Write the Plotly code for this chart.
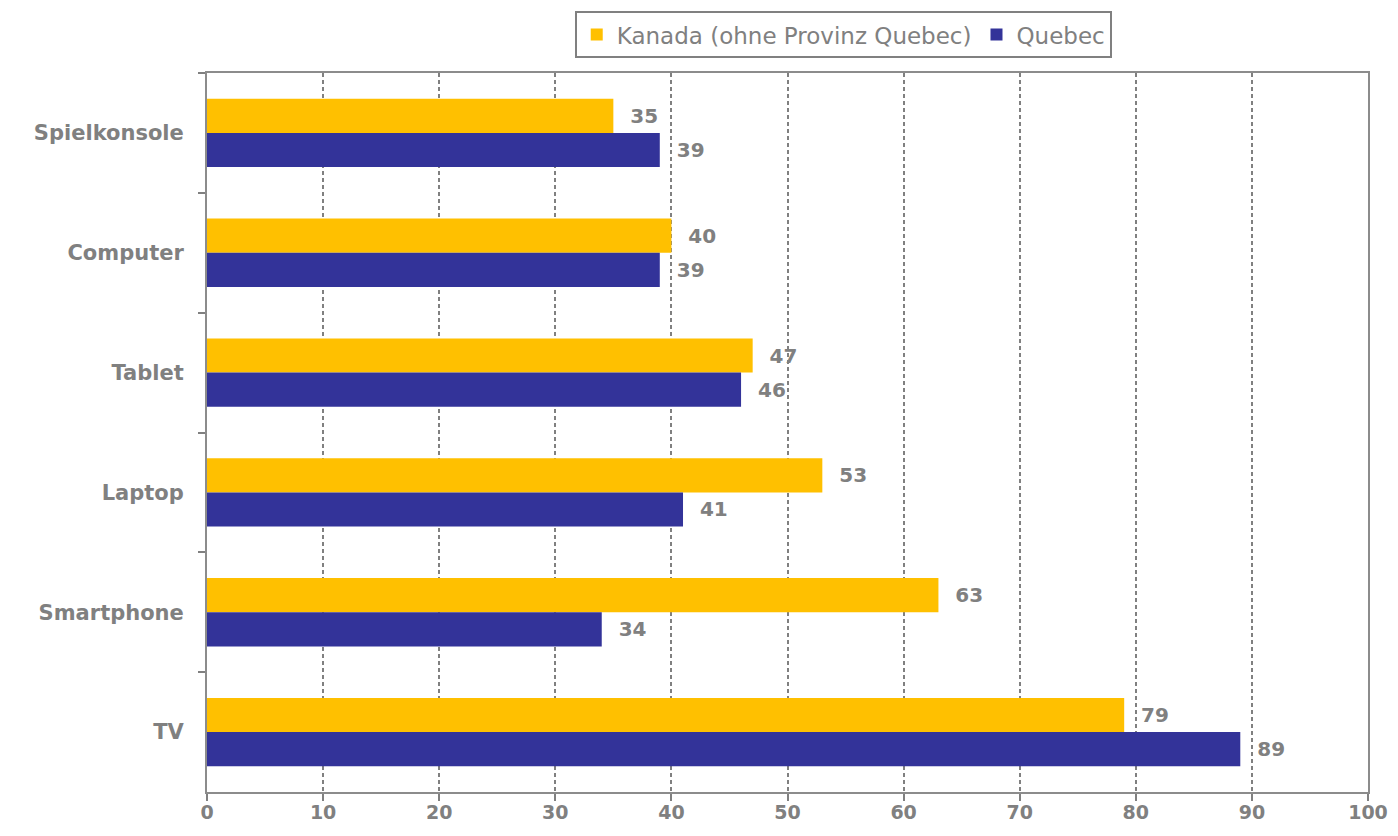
import plotly.graph_objects as go

categories = ["Spielkonsole", "Computer", "Tablet", "Laptop", "Smartphone", "TV"]
kanada = [35, 40, 47, 53, 63, 79]
quebec = [39, 39, 46, 41, 34, 89]
x_ticks = [0, 10, 20, 30, 40, 50, 60, 70, 80, 90, 100]

GRAY = "#808080"
FONT = "DejaVu Sans"

fig = go.Figure()
fig.add_trace(go.Bar(
    y=categories, x=kanada, orientation="h", name="Kanada (ohne Provinz Quebec)",
    marker=dict(color="#FFC000", line=dict(width=0)),
    text=kanada, texttemplate="  %{x}", textposition="outside", cliponaxis=False,
    textfont=dict(family=FONT, size=20, color=GRAY, weight="bold"),
))
fig.add_trace(go.Bar(
    y=categories, x=quebec, orientation="h", name="Quebec",
    marker=dict(color="#333399", line=dict(width=0)),
    text=quebec, texttemplate="  %{x}", textposition="outside", cliponaxis=False,
    textfont=dict(family=FONT, size=20, color=GRAY, weight="bold"),
))

fig.update_layout(
    width=1382, height=820,
    margin=dict(l=199, r=22, t=65, b=36, autoexpand=False),
    paper_bgcolor="white", plot_bgcolor="white",
    barmode="group", bargap=0.43, bargroupgap=0,
    font=dict(family=FONT, color=GRAY),
    showlegend=True,
    legend=dict(
        orientation="h", x=0.548, xanchor="center", y=1.086, yanchor="top",
        bordercolor=GRAY, borderwidth=2, bgcolor="white",
        font=dict(family=FONT, size=23, color=GRAY),
        itemwidth=30,
    ),
    uniformtext=dict(mode=False),
)
fig.update_xaxes(
    range=[0, 100], tickvals=x_ticks, ticktext=[str(v) for v in x_ticks],
    showgrid=True, gridcolor=GRAY, griddash="4px,3px", gridwidth=1.5,
    showline=True, linecolor="#8c8c8c", linewidth=2, mirror=True,
    ticks="outside", ticklen=7, tickcolor=GRAY, tickwidth=2,
    ticklabelstandoff=-5,
    tickfont=dict(family=FONT, size=19, color=GRAY, weight="bold"),
    zeroline=False, automargin=False,
)
fig.update_yaxes(
    autorange="reversed", categoryorder="array", categoryarray=categories,
    showline=True, linecolor="#8c8c8c", linewidth=2, mirror=True,
    ticks="outside", ticklen=7, tickcolor=GRAY, tickwidth=2, tickson="boundaries",
    ticklabelstandoff=17,
    tickfont=dict(family=FONT, size=21, color=GRAY, weight="bold"),
    showgrid=False, automargin=False,
)

fig.write_html("out.html")
